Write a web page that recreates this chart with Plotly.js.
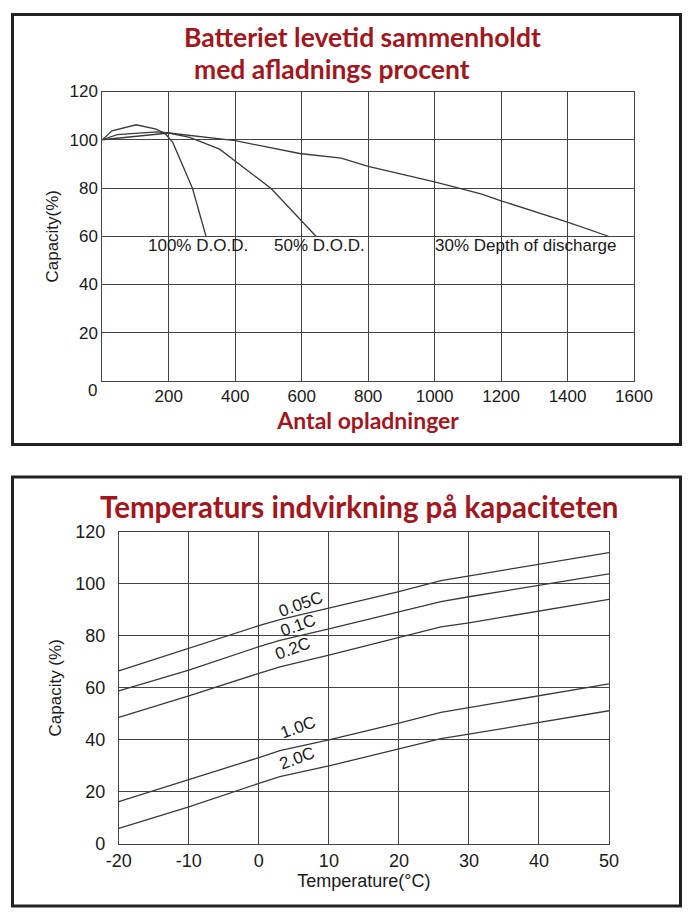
<!DOCTYPE html>
<html><head><meta charset="utf-8">
<script src="https://cdn.plot.ly/plotly-3.0.1.min.js"></script>
<style>html,body{margin:0;padding:0;background:#fff}#chart{width:692px;height:919px}</style>
</head><body><div id="chart"></div>
<script>
// ---- Top chart: cycle life vs depth of discharge ----
const cycleTicks = [200, 400, 600, 800, 1000, 1200, 1400, 1600];
const capTicksTop = [20, 40, 60, 80, 100, 120];
const dod100Cycles = [0, 29, 102, 162, 189, 212, 271, 312];
const dod100Capacity = [100, 103.7, 106.2, 104.4, 102.6, 98.9, 80, 60];
const dod50Cycles = [0, 45, 164, 200, 263, 353, 508, 643];
const dod50Capacity = [100, 102.1, 103.3, 102.8, 101, 96.1, 79.8, 60];
const dod30Cycles = [0, 200, 400, 594, 719, 800, 1000, 1062, 1142, 1200, 1400, 1523];
const dod30Capacity = [100, 102.8, 99.6, 94.3, 92.4, 89, 82.5, 80.2, 77.5, 74.7, 65.9, 60];
const dodLabels = ['100% D.O.D.', '50% D.O.D.', '30% Depth of discharge'];

// ---- Bottom chart: temperature effect on capacity ----
const temperatures = [-20, -10, 0, 3, 10, 20, 26, 30, 40, 50];
const tempTicks = [-20, -10, 0, 10, 20, 30, 40, 50];
const tempTickLabels = ['-20', '-10', '0', '10', '20', '30', '40', '50'];
const capTicksBottom = [0, 20, 40, 60, 80, 100, 120];
const cap005C = [66.5, 75.2, 83.9, 86.2, 90.7, 97, 101.2, 103, 107.4, 112];
const cap01C  = [58.8, 66.8, 75.8, 78.2, 82.7, 89.1, 93.1, 95, 99.5, 103.8];
const cap02C  = [48.7, 56.9, 65.6, 68.1, 72.6, 79.4, 83.4, 85, 89.5, 94];
const cap10C  = [16.3, 24.6, 33.2, 35.9, 40, 46.4, 50.6, 52.4, 56.9, 61.5];
const cap20C  = [6, 14.3, 23.3, 25.9, 30, 36.5, 40.5, 42.2, 46.8, 51.2];
const rateLabels = ['0.05C', '0.1C', '0.2C', '1.0C', '2.0C'];

const W = 692, H = 919;
const px = v => v / W, py = v => 1 - v / H;
const lineStyle = {color: '#3a3a3a', width: 1.3};
const red = '#a3161c';
const titleFont = 'Lato, "Open Sans", sans-serif';
const txtFont = '"Liberation Sans", Arial, sans-serif';
const ink = '#1a1a1a';

const traces = [
  {x: dod100Cycles, y: dod100Capacity, name: dodLabels[0], xaxis: 'x', yaxis: 'y'},
  {x: dod50Cycles, y: dod50Capacity, name: dodLabels[1], xaxis: 'x', yaxis: 'y'},
  {x: dod30Cycles, y: dod30Capacity, name: dodLabels[2], xaxis: 'x', yaxis: 'y'},
  {x: temperatures, y: cap005C, name: rateLabels[0], xaxis: 'x2', yaxis: 'y2'},
  {x: temperatures, y: cap01C, name: rateLabels[1], xaxis: 'x2', yaxis: 'y2'},
  {x: temperatures, y: cap02C, name: rateLabels[2], xaxis: 'x2', yaxis: 'y2'},
  {x: temperatures, y: cap10C, name: rateLabels[3], xaxis: 'x2', yaxis: 'y2'},
  {x: temperatures, y: cap20C, name: rateLabels[4], xaxis: 'x2', yaxis: 'y2'}
].map(t => Object.assign({type: 'scatter', mode: 'lines', line: lineStyle, hoverinfo: 'x+y'}, t));

const axisCommon = {
  showgrid: true, gridcolor: '#444', gridwidth: 1,
  showline: true, linecolor: '#444', linewidth: 1, mirror: true,
  zeroline: false, ticks: '', fixedrange: true,
  tickfont: {family: txtFont, size: 17, color: ink}
};

const layout = {
  width: W, height: H,
  margin: {l: 0, r: 0, t: 0, b: 0},
  paper_bgcolor: '#ffffff', plot_bgcolor: '#ffffff',
  showlegend: false,
  xaxis: Object.assign({}, axisCommon, {
    domain: [px(102.3), px(634)], range: [0, 1600], tickvals: cycleTicks,
    anchor: 'y', ticklabelstandoff: 0,
    title: {text: 'Antal opladninger', standoff: 0, font: {family: titleFont, size: 23, color: red, weight: 'bold'}}
  }),
  yaxis: Object.assign({}, axisCommon, {
    domain: [py(381), py(91.5)], range: [0, 120], tickvals: capTicksTop,
    anchor: 'x', ticklabelstandoff: 0,
    title: {text: 'Capacity(%)', standoff: 6, font: {family: txtFont, size: 17, color: ink}}
  }),
  xaxis2: Object.assign({}, axisCommon, {
    domain: [px(118.8), px(609)], range: [-20, 50], tickvals: tempTicks, ticktext: tempTickLabels,
    anchor: 'y2', ticklabelstandoff: 0,
    tickfont: {family: txtFont, size: 18, color: ink},
    title: {text: 'Temperature(°C)', standoff: 2, font: {family: txtFont, size: 18, color: ink}}
  }),
  yaxis2: Object.assign({}, axisCommon, {
    domain: [py(844), py(531.7)], range: [0, 120], tickvals: capTicksBottom,
    anchor: 'x2', ticklabelstandoff: 9,
    tickfont: {family: txtFont, size: 18, color: ink},
    title: {text: 'Capacity (%)', standoff: 9, font: {family: txtFont, size: 17, color: ink}}
  }),
  shapes: [
    {type: 'rect', xref: 'paper', yref: 'paper', x0: px(12.5), x1: px(680.5), y0: py(14.5), y1: py(444.5), line: {color: '#222', width: 3}},
    {type: 'rect', xref: 'paper', yref: 'paper', x0: px(12.5), x1: px(680.5), y0: py(477), y1: py(906), line: {color: '#222', width: 3}}
  ],
  annotations: [
    {text: 'Batteriet levetid sammenholdt', xref: 'paper', yref: 'paper', x: px(182), y: py(37), xanchor: 'left', yanchor: 'middle', showarrow: false, font: {family: titleFont, size: 26.5, color: red, weight: 'bold'}},
    {text: 'med afladnings procent', xref: 'paper', yref: 'paper', x: px(192), y: py(69), xanchor: 'left', yanchor: 'middle', showarrow: false, font: {family: titleFont, size: 26.5, color: red, weight: 'bold'}},
    {text: 'Temperaturs indvirkning på kapaciteten', xref: 'paper', yref: 'paper', x: px(359), y: py(506), xanchor: 'center', yanchor: 'middle', showarrow: false, font: {family: titleFont, size: 29.5, color: red, weight: 'bold'}},
    {text: '0', xref: 'paper', yref: 'paper', x: px(99), y: py(390), xanchor: 'right', yanchor: 'middle', showarrow: false, font: {family: txtFont, size: 17, color: ink}},
    {text: dodLabels[0], xref: 'x', yref: 'y', x: 131, y: 56, xanchor: 'left', yanchor: 'middle', showarrow: false, font: {family: txtFont, size: 17, color: ink}},
    {text: dodLabels[1], xref: 'x', yref: 'y', x: 510, y: 56, xanchor: 'left', yanchor: 'middle', showarrow: false, font: {family: txtFont, size: 17, color: ink}},
    {text: dodLabels[2], xref: 'x', yref: 'y', x: 995, y: 56, xanchor: 'left', yanchor: 'middle', showarrow: false, font: {family: txtFont, size: 17, color: ink}},
    {text: rateLabels[0], xref: 'x2', yref: 'y2', x: 5.9, y: 92.2, textangle: -20, showarrow: false, font: {family: txtFont, size: 17, color: ink}},
    {text: rateLabels[1], xref: 'x2', yref: 'y2', x: 5.6, y: 84.1, textangle: -20, showarrow: false, font: {family: txtFont, size: 17, color: ink}},
    {text: rateLabels[2], xref: 'x2', yref: 'y2', x: 4.9, y: 75, textangle: -20, showarrow: false, font: {family: txtFont, size: 17, color: ink}},
    {text: rateLabels[3], xref: 'x2', yref: 'y2', x: 5.6, y: 44.9, textangle: -20, showarrow: false, font: {family: txtFont, size: 17, color: ink}},
    {text: rateLabels[4], xref: 'x2', yref: 'y2', x: 5.4, y: 33, textangle: -20, showarrow: false, font: {family: txtFont, size: 17, color: ink}}
  ]
};

Plotly.newPlot('chart', traces, layout, {displayModeBar: false, staticPlot: true});
</script>
</body></html>
